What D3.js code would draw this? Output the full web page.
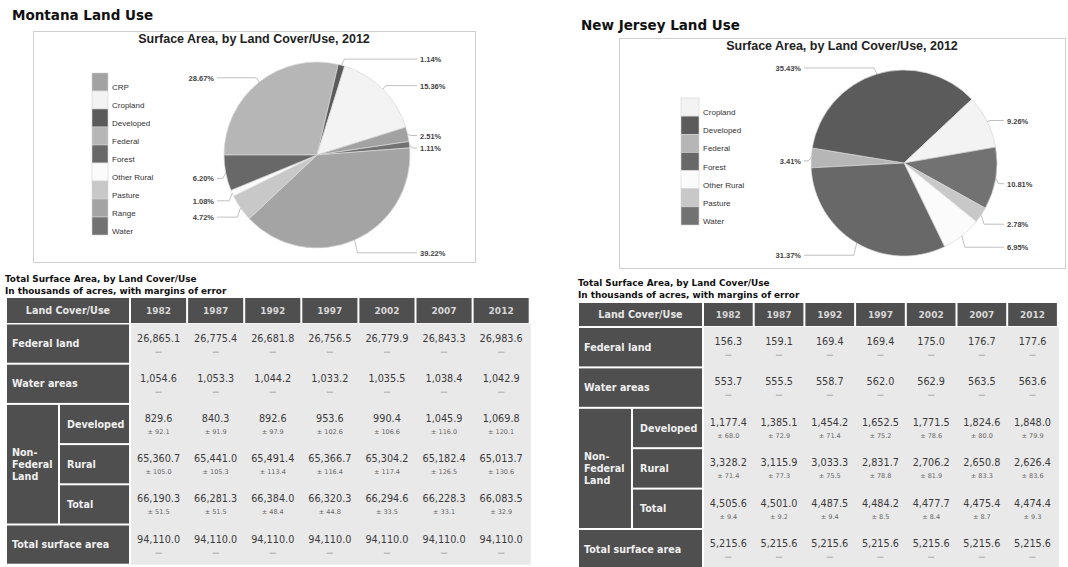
<!DOCTYPE html>
<html><head><meta charset="utf-8">
<script src="https://cdn.jsdelivr.net/npm/d3@7"></script>
<style>body{margin:0;background:#fff}svg{display:block}</style>
</head><body><svg id="c" width="1068" height="567"></svg>
<script>
// ---------- DATA ----------
const years = ["1982","1987","1992","1997","2002","2007","2012"];

const mtCategories = ["CRP","Cropland","Developed","Federal","Forest","Other Rural","Pasture","Range","Water"];
const mtShares     = [2.51, 15.36, 1.14, 28.67, 6.20, 1.08, 4.72, 39.22, 1.11];
const mtPieOrder   = ["Federal","Developed","Cropland","CRP","Water","Range","Pasture","Other Rural","Forest"];

const njCategories = ["Cropland","Developed","Federal","Forest","Other Rural","Pasture","Water"];
const njShares     = [9.26, 35.43, 3.41, 31.37, 6.95, 2.78, 10.81];
const njPieOrder   = ["Federal","Developed","Cropland","Water","Pasture","Other Rural","Forest"];

const mtFederal      = [26865.1, 26775.4, 26681.8, 26756.5, 26779.9, 26843.3, 26983.6];
const mtWater        = [1054.6, 1053.3, 1044.2, 1033.2, 1035.5, 1038.4, 1042.9];
const mtDeveloped    = [829.6, 840.3, 892.6, 953.6, 990.4, 1045.9, 1069.8];
const mtDevelopedMoe = [92.1, 91.9, 97.9, 102.6, 106.6, 116.0, 120.1];
const mtRural        = [65360.7, 65441.0, 65491.4, 65366.7, 65304.2, 65182.4, 65013.7];
const mtRuralMoe     = [105.0, 105.3, 113.4, 116.4, 117.4, 126.5, 130.6];
const mtNfTotal      = [66190.3, 66281.3, 66384.0, 66320.3, 66294.6, 66228.3, 66083.5];
const mtNfTotalMoe   = [51.5, 51.5, 48.4, 44.8, 33.5, 33.1, 32.9];
const mtSurface      = [94110.0, 94110.0, 94110.0, 94110.0, 94110.0, 94110.0, 94110.0];

const njFederal      = [156.3, 159.1, 169.4, 169.4, 175.0, 176.7, 177.6];
const njWater        = [553.7, 555.5, 558.7, 562.0, 562.9, 563.5, 563.6];
const njDeveloped    = [1177.4, 1385.1, 1454.2, 1652.5, 1771.5, 1824.6, 1848.0];
const njDevelopedMoe = [68.0, 72.9, 71.4, 75.2, 78.6, 80.0, 79.9];
const njRural        = [3328.2, 3115.9, 3033.3, 2831.7, 2706.2, 2650.8, 2626.4];
const njRuralMoe     = [71.4, 77.3, 75.5, 78.8, 81.9, 83.3, 83.6];
const njNfTotal      = [4505.6, 4501.0, 4487.5, 4484.2, 4477.7, 4475.4, 4474.4];
const njNfTotalMoe   = [9.4, 9.2, 9.4, 8.5, 8.4, 8.7, 9.3];
const njSurface      = [5215.6, 5215.6, 5215.6, 5215.6, 5215.6, 5215.6, 5215.6];

const rowKeys   = ["federal","water","developed","rural","total","surface"];
const rowLabels = ["Federal land","Water areas","Developed","Rural","Total","Total surface area"];

// ---------- STYLE ----------
const allCats = ["CRP","Cropland","Developed","Federal","Forest","Other Rural","Pasture","Range","Water"];
const color = d3.scaleOrdinal().domain(allCats)
  .range(["#a2a2a2","#f3f3f3","#5b5b5b","#b6b6b6","#686868","#fbfbfb","#c8c8c8","#a4a4a4","#727272"]);
const fmt = d3.format(",.1f");
const svg = d3.select("#c");
const SANS = "'Liberation Sans', Arial, sans-serif";
const VERD = "'DejaVu Sans', Verdana, sans-serif";
const HEAD = "#4f4f4f";

function drawChart(cfg, cats, shares, order) {
  svg.append("rect").attr("x", cfg.box[0]+0.5).attr("y", cfg.box[1]+0.5)
    .attr("width", cfg.box[2]).attr("height", cfg.box[3])
    .attr("fill", "#fff").attr("stroke", "#cfcfcf");
  svg.append("text").attr("x", cfg.box[0] + cfg.box[2]/2).attr("y", cfg.box[1] + 12)
    .attr("text-anchor", "middle").attr("font-family", SANS).attr("font-weight", "bold")
    .attr("font-size", 12.5).attr("fill", "#222").text("Surface Area, by Land Cover/Use, 2012");

  // legend
  const ly = d3.scaleBand().domain(cats).range([cfg.legend.y, cfg.legend.y + cfg.legend.h]);
  const lg = svg.append("g");
  lg.selectAll("rect").data(cats).join("rect")
    .attr("x", cfg.legend.x).attr("y", d => ly(d)).attr("width", cfg.legend.w).attr("height", ly.bandwidth())
    .attr("fill", d => color(d)).attr("stroke", "#d4d4d4").attr("stroke-width", 0.6);
  lg.selectAll("text").data(cats).join("text")
    .attr("x", cfg.legend.x + cfg.legend.w + 4).attr("y", d => ly(d) + ly.bandwidth() - 1)
    .attr("font-family", SANS).attr("font-size", 8).attr("fill", "#333").text(d => d);

  // pie
  const byName = new Map(cats.map((c, i) => [c, shares[i]]));
  const pieData = order.map(n => ({name: n, value: byName.get(n)}));
  const pie = d3.pie().value(d => d.value).sort(null)
    .startAngle(cfg.start).endAngle(cfg.start + 2 * Math.PI);
  const arcs = pie(pieData);
  const r = cfg.r;
  const arc = d3.arc().innerRadius(0).outerRadius(r);
  const g = svg.append("g").attr("transform", `translate(${cfg.cx},${cfg.cy})`);
  g.selectAll("path").data(arcs).join("path").attr("d", arc)
    .attr("fill", d => color(d.data.name)).attr("stroke", "#d8d8d8").attr("stroke-width", 0.7);

  // labels
  const labs = arcs.map(a => {
    const m = (a.startAngle + a.endAngle) / 2;
    return {a, side: Math.sin(m) >= 0 ? 1 : -1, px: r * Math.sin(m), py: -r * Math.cos(m),
            y: -(r + 10) * Math.cos(m) + 3.5};
  });
  [1, -1].forEach(side => {
    const items = labs.filter(l => l.side === side).sort((p, q) => p.y - q.y);
    const gap = 12.5;
    for (let i = 1; i < items.length; i++) if (items[i].y < items[i-1].y + gap) items[i].y = items[i-1].y + gap;
    const bottom = cfg.box[1] + cfg.box[3] - cfg.cy - 8;
    for (let i = items.length - 1; i >= 0; i--) {
      const lim = i === items.length - 1 ? bottom : items[i+1].y - gap;
      if (items[i].y > lim) items[i].y = lim;
    }
  });
  labs.forEach(l => {
    const endX = l.side * (r + 7);
    const bendX = l.px + l.side * 3;
    g.append("path").attr("d", `M${l.px},${l.py}L${bendX},${l.y}L${endX},${l.y}`)
      .attr("fill", "none").attr("stroke", "#b0b0b0").attr("stroke-width", 0.8);
    g.append("text").attr("x", l.side * (r + 10)).attr("y", l.y + 3)
      .attr("text-anchor", l.side > 0 ? "start" : "end")
      .attr("font-family", SANS).attr("font-size", 7.5).attr("font-weight", "bold").attr("fill", "#444")
      .text(d3.format(".2f")(l.a.data.value) + "%");
  });
}

function drawTable(t, rows) {
  const nCol = years.length;
  const xs = d3.scaleBand().domain(years)
    .range([t.yearX0, t.yearX0 + nCol * t.pitchX - 2]).paddingInner(2 / t.pitchX).paddingOuter(0);
  const ys = d3.scaleBand().domain(rowKeys)
    .range([t.rowY0, t.rowY0 + rowKeys.length * t.pitchY - 2]).paddingInner(2 / t.pitchY).paddingOuter(0);
  const g = svg.append("g");

  g.append("text").attr("x", t.titleX).attr("y", t.titleY).attr("font-family", VERD).attr("font-weight", "bold")
    .attr("font-size", 8.9).attr("fill", "#111").text("Total Surface Area, by Land Cover/Use");
  g.append("text").attr("x", t.titleX).attr("y", t.titleY + 11.5).attr("font-family", VERD).attr("font-weight", "bold")
    .attr("font-size", 8.9).attr("fill", "#111").text("In thousands of acres, with margins of error");

  g.append("rect").attr("x", t.yearX0).attr("y", t.rowY0 - 1)
    .attr("width", nCol * t.pitchX).attr("height", rowKeys.length * t.pitchY)
    .attr("fill", "#e9e9e9");

  g.append("rect").attr("x", t.x0).attr("y", t.headY).attr("width", t.col0W).attr("height", t.headH).attr("fill", HEAD);
  g.append("text").attr("x", t.x0 + t.col0W / 2).attr("y", t.headY + t.headH / 2 + 3.5)
    .attr("text-anchor", "middle").attr("font-family", VERD).attr("font-weight", "bold").attr("font-size", 9.6)
    .attr("fill", "#e6e6e6").text("Land Cover/Use");
  g.selectAll(".yh").data(years).join("rect").attr("class", "yh")
    .attr("x", d => xs(d)).attr("y", t.headY).attr("width", xs.bandwidth()).attr("height", t.headH).attr("fill", HEAD);
  g.selectAll(".yt").data(years).join("text").attr("class", "yt")
    .attr("x", d => xs(d) + xs.bandwidth() / 2).attr("y", t.headY + t.headH / 2 + 3.5)
    .attr("text-anchor", "middle").attr("font-family", VERD).attr("font-weight", "bold").attr("font-size", 9)
    .attr("fill", "#d8d8d8").text(d => d);

  const lab = (x, y, w, h) => g.append("rect").attr("x", x).attr("y", y).attr("width", w).attr("height", h).attr("fill", HEAD);
  const ltxt = (x, y, s) => g.append("text").attr("x", x).attr("y", y).attr("font-family", VERD)
    .attr("font-weight", "bold").attr("font-size", 9.6).attr("fill", "#f0f0f0").text(s);
  rowKeys.forEach((k, i) => {
    const y = ys(k), h = ys.bandwidth();
    if (k === "developed" || k === "rural" || k === "total") {
      lab(t.subX, y, t.x0 + t.col0W - t.subX, h);
      ltxt(t.subX + 7, y + h / 2 + 3.5, rowLabels[i]);
    } else {
      lab(t.x0, y, t.col0W, h);
      ltxt(t.x0 + 5, y + h / 2 + 3.5, rowLabels[i]);
    }
  });
  const nfTop = ys("developed"), nfBot = ys("total") + ys.bandwidth();
  lab(t.x0, nfTop, t.nfW, nfBot - nfTop);
  const nfMid = (nfTop + nfBot) / 2;
  ["Non-", "Federal", "Land"].forEach((s, j) => ltxt(t.x0 + 5, nfMid + (j - 1) * 12 + 3.5, s));

  rowKeys.forEach(k => {
    const r = rows[k];
    years.forEach((yr, j) => {
      const cx = xs(yr) + xs.bandwidth() / 2, y = ys(k);
      g.append("text").attr("x", cx).attr("y", y + 17).attr("text-anchor", "middle")
        .attr("font-family", VERD).attr("font-size", 9.7).attr("fill", "#3a3a3a").text(fmt(r.v[j]));
      const moe = r.m ? "\u00b1 " + fmt(r.m[j]) : "\u2014";
      g.append("text").attr("x", cx).attr("y", y + 29).attr("text-anchor", "middle")
        .attr("font-family", VERD).attr("font-size", r.m ? 6.5 : 7).attr("fill", "#666").text(moe);
    });
  });
}

svg.append("text").attr("x", 12).attr("y", 20).attr("font-family", VERD).attr("font-weight", "bold")
  .attr("font-size", 13.5).attr("fill", "#111").text("Montana Land Use");
svg.append("text").attr("x", 581).attr("y", 30).attr("font-family", VERD).attr("font-weight", "bold")
  .attr("font-size", 13.5).attr("fill", "#111").text("New Jersey Land Use");

drawChart({box: [33, 31, 442, 231], cx: 317, cy: 155, r: 93, start: -Math.PI / 2,
           legend: {x: 92, y: 73, w: 16, h: 162}}, mtCategories, mtShares, mtPieOrder);
drawChart({box: [619, 38, 446, 230], cx: 904, cy: 163, r: 93, start: -93 * Math.PI / 180,
           legend: {x: 681, y: 98, w: 18, h: 127}}, njCategories, njShares, njPieOrder);

drawTable({titleX: 5, titleY: 282, x0: 7, col0W: 122, nfW: 51, subX: 60, yearX0: 131, pitchX: 57.1,
           headY: 298, headH: 25, rowY0: 324.5, pitchY: 40.2},
  {federal: {v: mtFederal}, water: {v: mtWater}, developed: {v: mtDeveloped, m: mtDevelopedMoe},
   rural: {v: mtRural, m: mtRuralMoe}, total: {v: mtNfTotal, m: mtNfTotalMoe}, surface: {v: mtSurface}});
drawTable({titleX: 578, titleY: 286, x0: 579, col0W: 123, nfW: 52, subX: 633, yearX0: 704, pitchX: 50.7,
           headY: 303, headH: 23, rowY0: 328, pitchY: 40.4},
  {federal: {v: njFederal}, water: {v: njWater}, developed: {v: njDeveloped, m: njDevelopedMoe},
   rural: {v: njRural, m: njRuralMoe}, total: {v: njNfTotal, m: njNfTotalMoe}, surface: {v: njSurface}});
</script></body></html>
